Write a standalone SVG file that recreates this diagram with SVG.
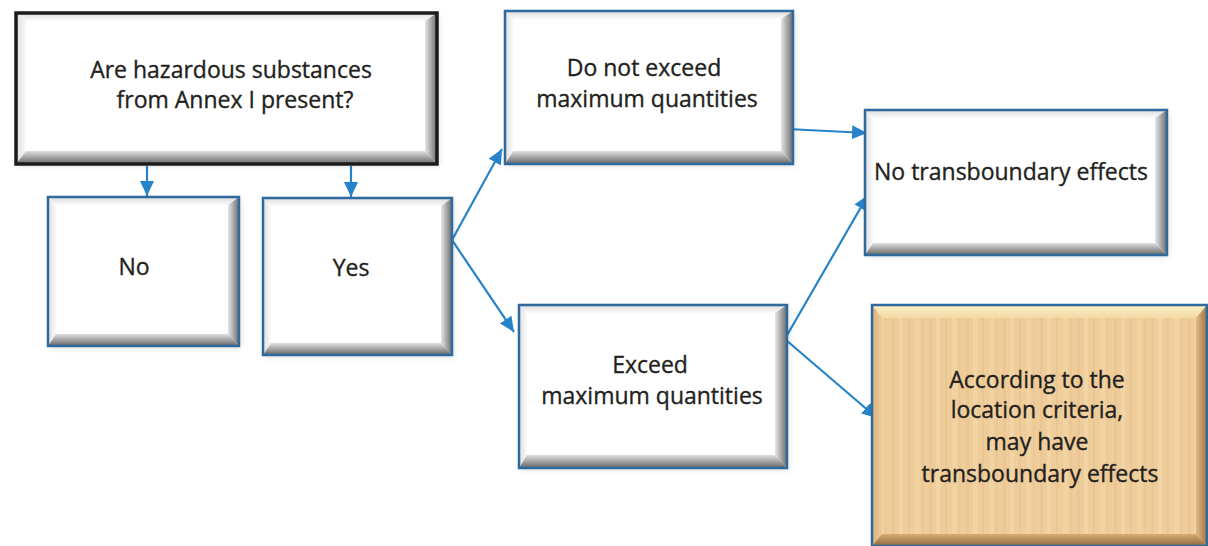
<svg xmlns="http://www.w3.org/2000/svg" width="1208" height="546" viewBox="0 0 1208 546">
<defs>
<style>
.lbl{font-family:"Open Sans","Liberation Sans",sans-serif;font-size:23px;fill:#231f20;stroke:#231f20;stroke-width:0.35;text-anchor:middle}
.face{fill:#ffffff}
.bt{fill:url(#gT)}
.bl{fill:url(#gL)}
.br{fill:url(#gR)}
.bb{fill:url(#gB)}
.edge{fill:none;stroke:#2e6a9e;stroke-width:2.5}
.edgeK{fill:none;stroke:#1b1b1b;stroke-width:3.5}
.obt{fill:url(#oT)}
.obl{fill:url(#oL)}
.obr{fill:url(#oR)}
.obb{fill:url(#oB)}
.conn{fill:none;stroke:#2683c9;stroke-width:2.2;marker-end:url(#ah)}
</style>
<linearGradient id="gT" x1="0" y1="1" x2="0" y2="0"><stop offset="0" stop-color="#fafafa"/><stop offset="1" stop-color="#dcdcdc"/></linearGradient>
<linearGradient id="gL" x1="1" y1="0" x2="0" y2="0"><stop offset="0" stop-color="#fafafa"/><stop offset="1" stop-color="#dedede"/></linearGradient>
<linearGradient id="gR" x1="0" y1="0" x2="1" y2="0"><stop offset="0" stop-color="#e6e6e6"/><stop offset="1" stop-color="#6c6c6c"/></linearGradient>
<linearGradient id="gB" x1="0" y1="0" x2="0" y2="1"><stop offset="0" stop-color="#e0e0e0"/><stop offset="1" stop-color="#666666"/></linearGradient>
<linearGradient id="oT" x1="0" y1="1" x2="0" y2="0"><stop offset="0" stop-color="#f3d9a6"/><stop offset="1" stop-color="#fbefc4"/></linearGradient>
<linearGradient id="oL" x1="1" y1="0" x2="0" y2="0"><stop offset="0" stop-color="#eecc98"/><stop offset="1" stop-color="#d9b07a"/></linearGradient>
<linearGradient id="oR" x1="0" y1="0" x2="1" y2="0"><stop offset="0" stop-color="#e2bb83"/><stop offset="1" stop-color="#9c7447"/></linearGradient>
<linearGradient id="oB" x1="0" y1="0" x2="0" y2="1"><stop offset="0" stop-color="#d8ad73"/><stop offset="1" stop-color="#8e6a40"/></linearGradient>
<pattern id="wood" width="37" height="60" patternUnits="userSpaceOnUse">
<rect width="37" height="60" fill="#efcd9b"/>
<rect x="4" width="3" height="60" fill="#e9c38d" opacity="0.6"/>
<rect x="11" width="4" height="60" fill="#f4d9ab" opacity="0.6"/>
<rect x="20" width="2" height="60" fill="#e6bf88" opacity="0.5"/>
<rect x="27" width="5" height="60" fill="#f3d7a7" opacity="0.5"/>
<rect x="34" width="1.5" height="60" fill="#e4bd86" opacity="0.45"/>
</pattern>
<filter id="sh" x="-5%" y="-5%" width="110%" height="110%"><feGaussianBlur stdDeviation="3"/></filter>
<marker id="ah" markerUnits="userSpaceOnUse" markerWidth="16" markerHeight="14" refX="15" refY="7" orient="auto">
<path d="M0,0 L15,7 L0,14 z" fill="#2683c9"/>
</marker>
</defs>

<g id="connectors">
<line class="conn" x1="147" y1="166" x2="147" y2="196"/>
<line class="conn" x1="351" y1="166" x2="351" y2="197"/>
<line class="conn" x1="452" y1="240" x2="502" y2="149"/>
<line class="conn" x1="452" y1="240" x2="514" y2="332"/>
<line class="conn" x1="787" y1="129" x2="867" y2="133"/>
<line class="conn" x1="786" y1="337" x2="868" y2="195"/>
<line class="conn" x1="786" y1="340" x2="877" y2="418"/>
</g>

<g id="q">
<rect x="18" y="15" width="421" height="151" fill="#000" opacity="0.12" filter="url(#sh)"/>
<rect class="face" x="16" y="13" width="421" height="151"/>
<polygon class="bt" points="16,13 437,13 427,21 26,21"/>
<polygon class="bl" points="16,13 26,21 26,151 16,164"/>
<polygon class="br" points="437,13 437,164 425,151 425,21"/>
<polygon class="bb" points="16,164 437,164 425,151 26,151"/>
<rect class="edgeK" x="16" y="13" width="421" height="151"/>
<text class="lbl" x="231" y="78">Are hazardous substances</text>
<text class="lbl" x="235" y="108">from Annex I present?</text>
</g>

<g id="no">
<rect x="50" y="199" width="191" height="149" fill="#000" opacity="0.12" filter="url(#sh)"/>
<rect class="face" x="48" y="197" width="191" height="149"/>
<polygon class="bt" points="48,197 239,197 229,205 56,205"/>
<polygon class="bl" points="48,197 56,205 56,334 48,346"/>
<polygon class="br" points="239,197 239,346 228,334 228,205"/>
<polygon class="bb" points="48,346 239,346 228,334 56,334"/>
<rect class="edge" x="48" y="197" width="191" height="149"/>
<text class="lbl" x="134" y="275">No</text>
</g>

<g id="yes">
<rect x="265" y="200" width="189" height="157" fill="#000" opacity="0.12" filter="url(#sh)"/>
<rect class="face" x="263" y="198" width="189" height="157"/>
<polygon class="bt" points="263,198 452,198 442,206 271,206"/>
<polygon class="bl" points="263,198 271,206 271,343 263,355"/>
<polygon class="br" points="452,198 452,355 441,343 441,206"/>
<polygon class="bb" points="263,355 452,355 441,343 271,343"/>
<rect class="edge" x="263" y="198" width="189" height="157"/>
<text class="lbl" x="351" y="276">Yes</text>
</g>

<g id="notexceed">
<rect x="507" y="13" width="288" height="153" fill="#000" opacity="0.12" filter="url(#sh)"/>
<rect class="face" x="505" y="11" width="288" height="153"/>
<polygon class="bt" points="505,11 793,11 783,19 513,19"/>
<polygon class="bl" points="505,11 513,19 513,151 505,164"/>
<polygon class="br" points="793,11 793,164 781,151 781,19"/>
<polygon class="bb" points="505,164 793,164 781,151 513,151"/>
<rect class="edge" x="505" y="11" width="288" height="153"/>
<text class="lbl" x="644" y="76">Do not exceed</text>
<text class="lbl" x="647" y="107">maximum quantities</text>
</g>

<g id="exceed">
<rect x="521" y="307" width="268" height="163" fill="#000" opacity="0.12" filter="url(#sh)"/>
<rect class="face" x="519" y="305" width="268" height="163"/>
<polygon class="bt" points="519,305 787,305 777,313 527,313"/>
<polygon class="bl" points="519,305 527,313 527,455 519,468"/>
<polygon class="br" points="787,305 787,468 775,455 775,313"/>
<polygon class="bb" points="519,468 787,468 775,455 527,455"/>
<rect class="edge" x="519" y="305" width="268" height="163"/>
<text class="lbl" x="650" y="373">Exceed</text>
<text class="lbl" x="652" y="404">maximum quantities</text>
</g>

<g id="notrans">
<rect x="867" y="112" width="302" height="145" fill="#000" opacity="0.12" filter="url(#sh)"/>
<rect class="face" x="865" y="110" width="302" height="145"/>
<polygon class="bt" points="865,110 1167,110 1157,118 873,118"/>
<polygon class="bl" points="865,110 873,118 873,243 865,255"/>
<polygon class="br" points="1167,110 1167,255 1155,243 1155,118"/>
<polygon class="bb" points="865,255 1167,255 1155,243 873,243"/>
<rect class="edge" x="865" y="110" width="302" height="145"/>
<text class="lbl" x="1011" y="180">No transboundary effects</text>
</g>

<g id="maybe">
<rect x="872" y="305" width="335" height="241" fill="url(#wood)"/>
<polygon class="obt" points="872,305 1207,305 1196,318 882,318"/>
<polygon class="obl" points="872,305 882,318 882,534 872,546"/>
<polygon class="obr" points="1207,305 1207,546 1196,534 1196,318"/>
<polygon class="obb" points="872,546 1207,546 1196,534 882,534"/>
<rect x="872" y="305" width="335" height="241" fill="none" stroke="#2e6a9e" stroke-width="2.5"/>
<text class="lbl" x="1037" y="388">According to the</text>
<text class="lbl" x="1037" y="418">location criteria,</text>
<text class="lbl" x="1037" y="450">may have</text>
<text class="lbl" x="1040" y="482">transboundary effects</text>
</g>
</svg>
